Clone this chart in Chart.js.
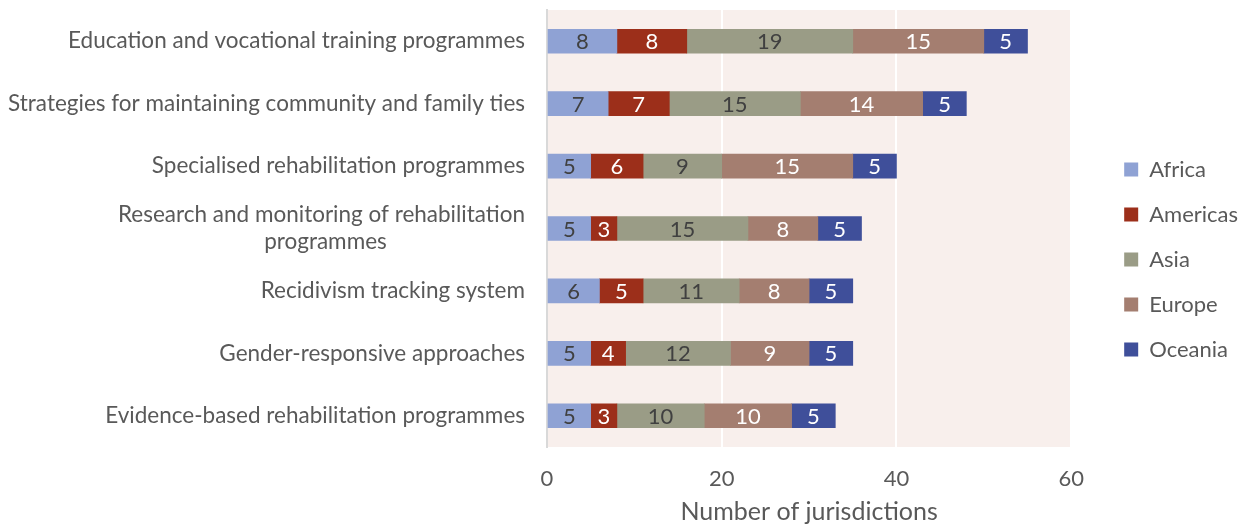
<!DOCTYPE html>
<html>
<head>
<meta charset="utf-8">
<script src="https://cdn.jsdelivr.net/npm/chart.js@4/dist/chart.umd.min.js"></script>
<style>
  html, body { margin: 0; padding: 0; background: #ffffff; }
  #wrap { width: 1248px; height: 527px; }
</style>
</head>
<body>
<div id="wrap"><canvas id="myBarChart" width="1248" height="527"></canvas></div>
<script>
const categories = [
  'Education and vocational training programmes',
  'Strategies for maintaining community and family ties',
  'Specialised rehabilitation programmes',
  ['Research and monitoring of rehabilitation', 'programmes                        '],
  'Recidivism tracking system',
  'Gender-responsive approaches',
  'Evidence-based rehabilitation programmes'
];

const africa   = [8, 7, 5, 5, 6, 5, 5];
const americas = [8, 7, 6, 3, 5, 4, 3];
const asia     = [19, 15, 9, 15, 11, 12, 10];
const europe   = [15, 14, 15, 8, 8, 9, 10];
const oceania  = [5, 5, 5, 5, 5, 5, 5];

const xTicks = [0, 20, 40, 60];

const FONT = 'Lato, "Open Sans", sans-serif';
const TEXT = '#595959';

// light pink plot background
const plotBg = {
  id: 'plotBg',
  beforeDraw(chart) {
    const { ctx, chartArea: a } = chart;
    ctx.save();
    ctx.fillStyle = '#f8efec';
    ctx.fillRect(a.left, a.top, a.right - a.left, a.bottom - a.top);
    ctx.restore();
  }
};

// value labels in the middle of each segment
const segLabels = {
  id: 'segLabels',
  afterDatasetsDraw(chart) {
    const ctx = chart.ctx;
    ctx.save();
    ctx.font = '22px ' + FONT;
    ctx.textAlign = 'center';
    ctx.textBaseline = 'middle';
    chart.data.datasets.forEach((ds, i) => {
      const meta = chart.getDatasetMeta(i);
      if (meta.hidden) return;
      meta.data.forEach((bar, j) => {
        ctx.fillStyle = ds.labelColor;
        ctx.fillText(String(ds.data[j]), (bar.x + bar.base) / 2, bar.y + 1);
      });
    });
    ctx.restore();
  }
};

// leave a gap between plot and legend, nudge legend up a bit
const LEGEND_GAP = 30;
const legendShift = {
  id: 'legendShift',
  beforeLayout(chart) {
    const lg = chart.legend;
    if (!lg || lg._shifted) return;
    lg._shifted = true;
    const fit = lg.fit;
    lg.fit = function () { fit.call(this); this.width += LEGEND_GAP; };
    const draw = lg.draw;
    lg.draw = function () {
      this.ctx.save();
      this.ctx.translate(LEGEND_GAP, -9);
      draw.call(this);
      this.ctx.restore();
    };
  }
};

const ctx = document.getElementById('myBarChart').getContext('2d');

new Chart(ctx, {
  type: 'bar',
  data: {
    labels: categories,
    datasets: [
      { label: 'Africa',   data: africa,   backgroundColor: '#8fa2d4', labelColor: '#404040' },
      { label: 'Americas', data: americas, backgroundColor: '#9c2f1a', labelColor: '#ffffff' },
      { label: 'Asia',     data: asia,     backgroundColor: '#9a9c86', labelColor: '#404040' },
      { label: 'Europe',   data: europe,   backgroundColor: '#a47e70', labelColor: '#ffffff' },
      { label: 'Oceania',  data: oceania,  backgroundColor: '#3f4f9a', labelColor: '#ffffff' }
    ]
  },
  options: {
    indexAxis: 'y',
    responsive: false,
    animation: false,
    layout: { padding: { top: 10, right: 0, bottom: 0, left: 0 } },
    datasets: {
      bar: { barThickness: 24, categoryPercentage: 1 }
    },
    plugins: {
      legend: {
        position: 'right',
        labels: {
          font: { family: FONT, size: 22 },
          color: TEXT,
          boxWidth: 14,
          boxHeight: 14,
          padding: 23
        }
      },
      tooltip: { enabled: false }
    },
    scales: {
      x: {
        stacked: true,
        min: 0,
        max: 60,
        afterBuildTicks(scale) {
          scale.ticks = xTicks.map(v => ({ value: v }));
        },
        afterFit(scale) { scale.height = 80; },
        grid: { color: '#ffffff', lineWidth: 2, drawTicks: false },
        border: { display: false },
        ticks: { font: { family: FONT, size: 22 }, color: TEXT, padding: 19 },
        title: {
          display: true,
          text: 'Number of jurisdictions',
          font: { family: FONT, size: 25 },
          color: TEXT,
          padding: { top: 2, bottom: 0 }
        }
      },
      y: {
        stacked: true,
        afterFit(scale) {
          scale.width = 547;
          scale.paddingTop = 0;
          scale.paddingBottom = 0;
        },
        grid: { display: false, drawTicks: false },
        border: { display: true, color: '#d9d9d9', width: 2 },
        ticks: { font: { family: FONT, size: 22.5 }, color: TEXT, padding: 22 }
      }
    }
  },
  plugins: [plotBg, segLabels, legendShift]
});
</script>
</body>
</html>
